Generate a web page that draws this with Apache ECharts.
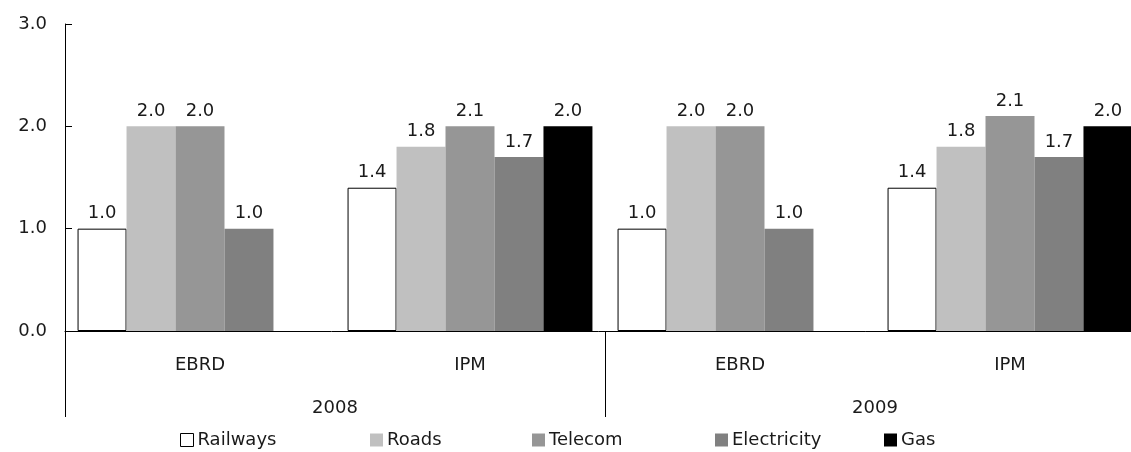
<!DOCTYPE html>
<html>
<head>
<meta charset="utf-8">
<script src="https://cdn.jsdelivr.net/npm/echarts@6/dist/echarts.min.js"></script>
<style>
html,body{margin:0;padding:0;background:#fff;}
#chart{width:1131px;height:452px;}
</style>
</head>
<body>
<div id="chart"></div>
<script>
var groups = ['EBRD', 'IPM', 'EBRD', 'IPM'];
var years = ['2008', '2009'];
var yTicks = [0, 1, 2, 3];
var seriesNames = ['Railways', 'Roads', 'Telecom', 'Electricity', 'Gas'];
var railways = [1.0, 1.4, 1.0, 1.4];
var roads = [2.0, 1.8, 2.0, 1.8];
var telecom = [2.0, 2.0, 2.0, 2.1];
var telecomLabels = ['2.0', '2.1', '2.0', '2.1'];
var electricity = [1.0, 1.7, 1.0, 1.7];
var gas = [null, 2.0, null, 2.0];

var FONT = 'DejaVu Sans';
var FS = 18;
var TXT = '#1a1a1a';
var colors = ['#ffffff', '#c0c0c0', '#969696', '#808080', '#000000'];
var values = [railways, roads, telecom, electricity, gas];
var legendLeft = [180, 370, 532, 715, 884];

function mkSeries(i) {
  return {
    name: seriesNames[i],
    type: 'bar',
    xAxisIndex: 0,
    barGap: '0%',
    barCategoryGap: '9.3%',
    data: values[i].map(function (v) { return v === null ? '-' : v; }),
    itemStyle: i === 0 ? { color: '#ffffff', borderColor: '#000', borderWidth: 1 } : { color: colors[i] },
    label: {
      show: true,
      position: 'top',
      distance: 6,
      fontFamily: FONT,
      fontSize: FS,
      color: TXT,
      formatter: function (p) {
        if (i === 2) return telecomLabels[p.dataIndex];
        return Number(p.value).toFixed(1);
      }
    },
    emphasis: { disabled: true },
    animation: false
  };
}

var legends = seriesNames.map(function (n, i) {
  return {
    data: [n],
    left: legendLeft[i],
    top: 431,
    itemWidth: 13,
    itemHeight: 13,
    itemGap: 0,
    padding: 0,
    icon: 'rect',
    selectedMode: false,
    itemStyle: i === 0 ? { borderWidth: 1, borderColor: '#000', color: '#fff' } : {},
    textStyle: { fontFamily: FONT, fontSize: FS, color: TXT, padding: [0, 0, 0, -1] }
  };
});

var chart = echarts.init(document.getElementById('chart'), null, { renderer: 'canvas' });
chart.setOption({
  backgroundColor: '#fff',
  animation: false,
  legend: legends,
  grid: { left: 65, top: 24, width: 1080, height: 307, containLabel: false, outerBoundsMode: 'none' },
  xAxis: [
    {
      type: 'category',
      position: 'bottom',
      data: groups,
      axisLine: { show: true, lineStyle: { color: '#000', width: 1 } },
      axisTick: { show: false },
      axisLabel: { fontFamily: FONT, fontSize: FS, color: TXT, margin: 25 },
      splitLine: { show: false }
    },
    {
      type: 'category',
      position: 'bottom',
      data: years,
      axisLine: { show: false },
      axisTick: { show: true, length: 86, lineStyle: { color: '#000', width: 1 } },
      axisLabel: { fontFamily: FONT, fontSize: FS, color: TXT, margin: 68 },
      splitLine: { show: false }
    }
  ],
  yAxis: {
    type: 'value',
    min: yTicks[0],
    max: yTicks[yTicks.length - 1],
    interval: 1,
    axisLine: { show: true, lineStyle: { color: '#000', width: 1 } },
    axisTick: { show: true, inside: true, length: 7, lineStyle: { color: '#000' } },
    splitLine: { show: false },
    axisLabel: {
      fontFamily: FONT, fontSize: FS, color: TXT, margin: 18,
      formatter: function (v) { return v.toFixed(1); }
    }
  },
  series: seriesNames.map(function (n, i) { return mkSeries(i); })
});
</script>
</body>
</html>
